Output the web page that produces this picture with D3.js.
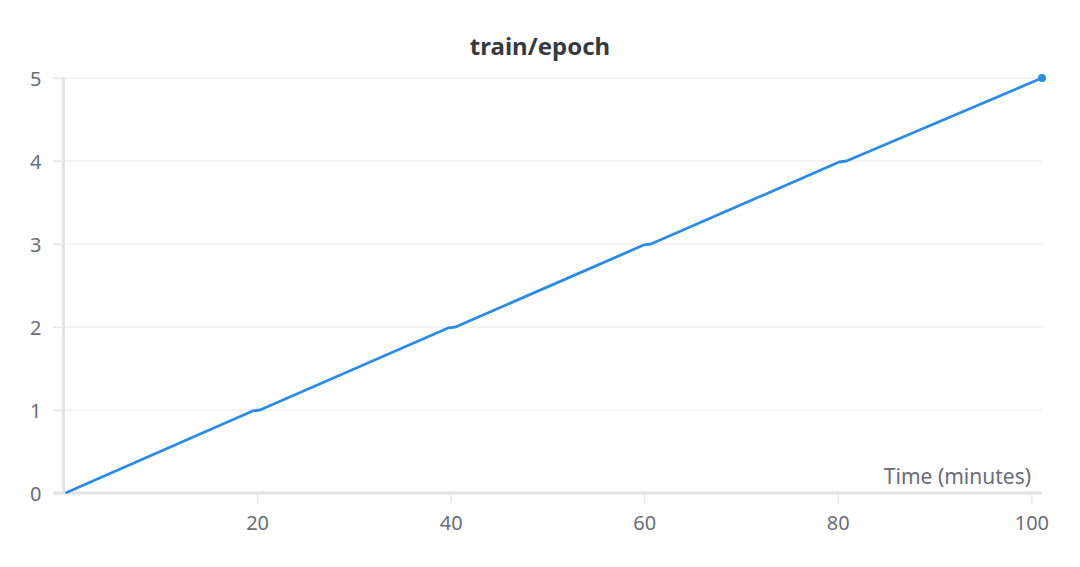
<!DOCTYPE html>
<html>
<head>
<meta charset="utf-8">
<title>train/epoch</title>
<script src="https://d3js.org/d3.v7.min.js"></script>
<style>
  body { margin: 0; background: #fff; }
  text { font-family: "Source Sans Pro", "Noto Sans", sans-serif; }
  .grid line { stroke: #e8e8ec; stroke-width: 1px; }
  .tick text { fill: #6b6c78; font-size: 20px; }
</style>
</head>
<body>
<svg width="1080" height="567"></svg>
<script>
// ---- data ----
var timeMin = [0.2, 19.6, 20.3, 39.8, 40.5, 60.0, 60.7, 80.2, 80.9, 101.1];
var epoch   = [0,   0.99, 1.0,  1.99, 2.0,  2.99, 3.0,  3.99, 4.0,  5.0];
var xTicks = [20, 40, 60, 80, 100];
var yTicks = [0, 1, 2, 3, 4, 5];

var svg = d3.select("svg"),
    margin = {left: 63.5, right: 38, top: 78, bottom: 74},
    width = +svg.attr("width"),
    height = +svg.attr("height");

var x = d3.scaleLinear().domain([0, 101.1]).range([margin.left, 1042]);
var y = d3.scaleLinear().domain([0, 5]).range([493, margin.top]);

var data = timeMin.map(function(t, i) { return {t: t, e: epoch[i]}; });

// title
svg.append("text")
    .attr("x", 540).attr("y", 55)
    .attr("text-anchor", "middle")
    .style("font-size", "24px").style("font-weight", "bold")
    .style("fill", "#363a3e")
    .text("train/epoch");

// horizontal grid
svg.append("g").attr("class", "grid")
  .selectAll("line").data(yTicks.slice(1)).enter().append("line")
    .attr("x1", 53).attr("x2", 1042)
    .attr("y1", function(d) { return y(d); })
    .attr("y2", function(d) { return y(d); });

// y axis
var yAxis = svg.append("g")
    .attr("transform", "translate(" + margin.left + ",0)")
    .call(d3.axisLeft(y).tickValues(yTicks).tickSize(10).tickPadding(12).tickFormat(d3.format("d")));
yAxis.select(".domain").attr("stroke", "#e3e3e8").attr("stroke-width", 3).attr("d", "M0," + y(5) + "V" + y(0));
yAxis.selectAll(".tick line").attr("stroke", "#e8e8ec").attr("stroke-width", 1.5);
yAxis.selectAll(".tick text").attr("dy", "0.35em");

// x axis
var xAxis = svg.append("g")
    .attr("transform", "translate(0," + y(0) + ")")
    .call(d3.axisBottom(x).tickValues(xTicks).tickSize(10).tickPadding(13));
xAxis.select(".domain").attr("stroke", "#e3e3e8").attr("stroke-width", 3).attr("d", "M53,0H1042");
xAxis.selectAll(".tick line").attr("stroke", "#e8e8ec").attr("stroke-width", 1.5);

// axis title
svg.append("text")
    .attr("x", 1031).attr("y", 484)
    .attr("text-anchor", "end")
    .style("font-size", "21px").style("fill", "#6b6c78")
    .text("Time (minutes)");

// line
var line = d3.line()
    .x(function(d) { return x(d.t); })
    .y(function(d) { return y(d.e); });

svg.append("path")
    .datum(data)
    .attr("fill", "none")
    .attr("stroke", "#2f8be0")
    .attr("stroke-width", 2.8)
    .attr("stroke-linejoin", "round")
    .attr("d", line);

// end point
var last = data[data.length - 1];
svg.append("circle")
    .attr("cx", x(last.t)).attr("cy", y(last.e))
    .attr("r", 4)
    .attr("fill", "#2f8be0");
</script>
</body>
</html>
